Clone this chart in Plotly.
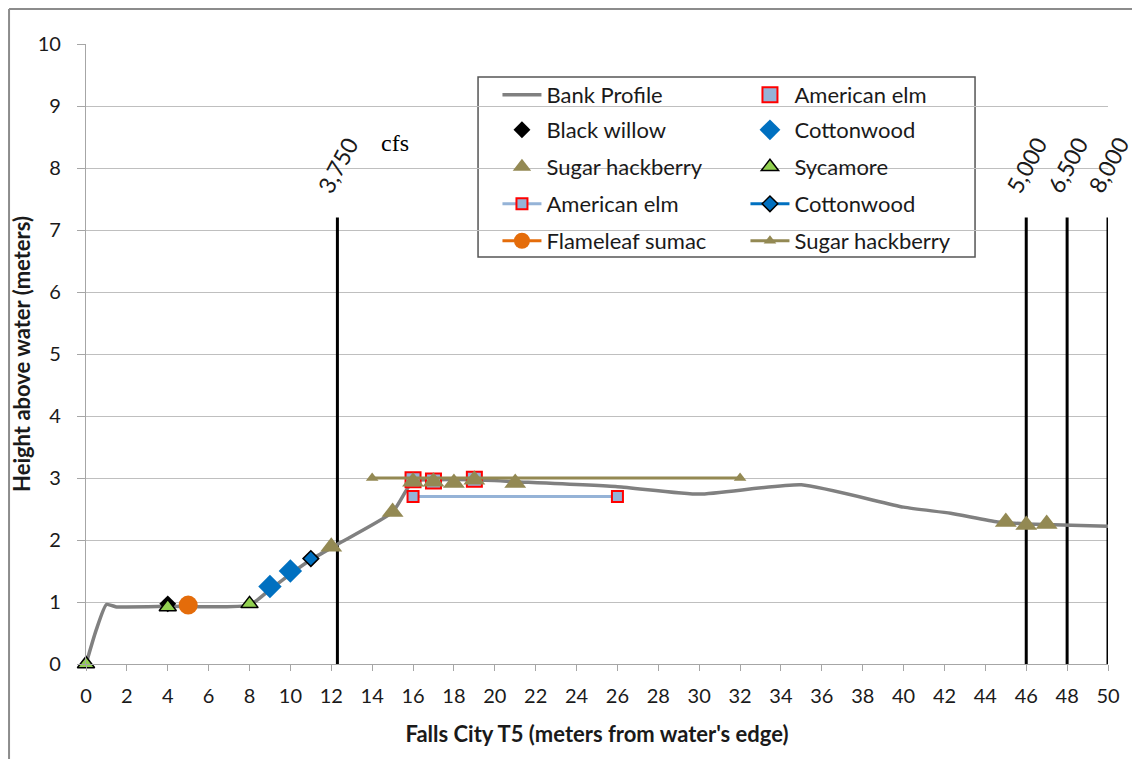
import plotly.graph_objects as go

# ---------------- data ----------------
bank_x = [0, 0.5, 1.0, 1.5, 2, 4, 8, 9, 10, 11, 12.3, 15, 16, 17, 19, 21, 26, 30, 35, 40, 42.3, 44.6, 46, 50]
bank_y = [0, 0.55, 0.96, 0.92, 0.92, 0.93, 0.95, 1.2, 1.45, 1.68, 1.93, 2.45, 2.95, 2.97, 2.97, 2.94, 2.86, 2.74, 2.89, 2.53, 2.43, 2.29, 2.26, 2.22]

elm_pts_x = [16, 17, 19]
elm_pts_y = [2.97, 2.95, 2.98]

willow_x = [4]
willow_y = [0.97]

cotton_pts_x = [9, 10]
cotton_pts_y = [1.25, 1.5]

hack_pts_x = [12, 15, 16, 17, 18, 19, 21, 45, 46, 47]
hack_pts_y = [1.89, 2.45, 2.94, 2.94, 2.92, 2.97, 2.92, 2.29, 2.24, 2.26]

syc_x = [0, 4, 8]
syc_y = [0.0, 0.92, 0.97]

elm_line_x = [16, 26]
elm_line_y = [2.7, 2.7]

cotton_line_x = [11]
cotton_line_y = [1.7]

sumac_x = [5]
sumac_y = [0.95]

hack_line_x = [14, 32]
hack_line_y = [3.0, 3.0]

flow_x = [12.3, 46, 48, 50]
flow_labels = ["3,750", "5,000", "6,500", "8,000"]
flow_top = 7.2

x_ticks = list(range(0, 51, 2))
y_ticks = list(range(0, 11, 1))

# ---------------- style ----------------
FONT = "Lato"
TXT = "#1a1a1a"
OLIVE = "#938953"
ELM_FILL = "#95B3D7"
BLUE = "#0070C0"
ORANGE = "#E46C0A"
GREEN = "#92D050"

fig = go.Figure()

# flow lines (no legend)
for fx in flow_x:
    fig.add_trace(go.Scatter(x=[fx, fx], y=[0, flow_top], mode="lines",
                             line=dict(color="black", width=3), showlegend=False,
                             hoverinfo="skip"))

fig.add_trace(go.Scatter(x=bank_x, y=bank_y, mode="lines", name="Bank Profile",
                         line=dict(color="#808080", width=3.5, shape="spline", smoothing=0.5),
                         legend="legend"))
fig.add_trace(go.Scatter(x=elm_pts_x, y=elm_pts_y, mode="markers", name="American elm",
                         marker=dict(symbol="square", size=15, color=ELM_FILL,
                                     line=dict(color="#FF0000", width=2)),
                         legend="legend"))
fig.add_trace(go.Scatter(x=willow_x, y=willow_y, mode="markers", name="Black willow",
                         marker=dict(symbol="diamond", size=13, color="black"),
                         legend="legend2"))
fig.add_trace(go.Scatter(x=cotton_pts_x, y=cotton_pts_y, mode="markers", name="Cottonwood",
                         marker=dict(symbol="diamond", size=18, color=BLUE),
                         legend="legend2"))
fig.add_trace(go.Scatter(x=hack_pts_x, y=hack_pts_y, mode="markers", name="Sugar hackberry",
                         marker=dict(symbol="triangle-up", size=19, color=OLIVE),
                         legend="legend3"))
fig.add_trace(go.Scatter(x=syc_x, y=syc_y, mode="markers", name="Sycamore",
                         marker=dict(symbol="triangle-up", size=15, color=GREEN,
                                     line=dict(color="black", width=1.5)),
                         cliponaxis=False, legend="legend3"))
fig.add_trace(go.Scatter(x=elm_line_x, y=elm_line_y, mode="lines+markers", name="American elm",
                         line=dict(color=ELM_FILL, width=3),
                         marker=dict(symbol="square", size=11, color=ELM_FILL,
                                     line=dict(color="#FF0000", width=2)),
                         legend="legend4"))
fig.add_trace(go.Scatter(x=cotton_line_x, y=cotton_line_y, mode="lines+markers", name="Cottonwood",
                         line=dict(color=BLUE, width=3),
                         marker=dict(symbol="diamond", size=12, color=BLUE,
                                     line=dict(color="black", width=1.5)),
                         legend="legend4"))
fig.add_trace(go.Scatter(x=sumac_x, y=sumac_y, mode="lines+markers", name="Flameleaf sumac",
                         line=dict(color=ORANGE, width=3),
                         marker=dict(symbol="circle", size=19, color=ORANGE),
                         legend="legend5"))
fig.add_trace(go.Scatter(x=hack_line_x, y=hack_line_y, mode="lines+markers", name="Sugar hackberry",
                         line=dict(color=OLIVE, width=3),
                         marker=dict(symbol="triangle-up", size=11, color=OLIVE),
                         legend="legend5"))

# flow labels
for fx, lab in zip(flow_x, flow_labels):
    fig.add_annotation(x=fx, y=8.05, text=lab, showarrow=False, textangle=-62,
                       font=dict(family=FONT, size=23, color=TXT),
                       xanchor="center", yanchor="middle")
fig.add_annotation(x=15.1, y=8.4, text="cfs", showarrow=False,
                   font=dict(family="Liberation Serif", size=24, color="black"),
                   xanchor="center", yanchor="middle")

# legends: one per row
row_y = [0.9177, 0.8613, 0.8016, 0.7419, 0.6823]
leg_common = dict(orientation="h", x=0.4026, xanchor="left", yanchor="middle",
                  entrywidth=194, entrywidthmode="pixels", itemwidth=39,
                  bgcolor="rgba(0,0,0,0)", borderwidth=0,
                  font=dict(family=FONT, size=22, color=TXT),
                  traceorder="normal")
legends = {}
for i, ry in enumerate(row_y):
    key = "legend" if i == 0 else f"legend{i+1}"
    legends[key] = dict(leg_common, y=ry)

fig.update_layout(
    width=1140, height=759,
    margin=dict(l=78, r=40, t=36, b=103, autoexpand=False),
    paper_bgcolor="white", plot_bgcolor="white",
    font=dict(family=FONT, size=19, color=TXT),
    showlegend=True,
    **legends,
    shapes=[
        # legend box
        dict(type="rect", xref="paper", yref="paper", x0=0.3836, x1=0.8699, y0=0.6565, y1=0.9468,
             line=dict(color="#555555", width=1.5), fillcolor="white", layer="between"),
        # outer chart border (top and left edges)
        dict(type="line", xref="paper", yref="paper", x0=-0.0753, x1=1.06, y0=1.0565, y1=1.0565,
             line=dict(color="#8c8c8c", width=2)),
        dict(type="line", xref="paper", yref="paper", x0=-0.0753, x1=-0.0753, y0=1.0565, y1=-0.2,
             line=dict(color="#8c8c8c", width=2)),
    ],
)

fig.update_xaxes(range=[0, 50], tickvals=x_ticks, ticktext=[str(v) for v in x_ticks],
                 automargin=False,
                 showgrid=False, zeroline=False, showline=True, linecolor="#A6A6A6", linewidth=1.3,
                 ticks="outside", ticklen=6, tickcolor="#A6A6A6", tickwidth=1.3,
                 ticklabelstandoff=8,
                 tickfont=dict(family=FONT, size=20, color=TXT),
                 title=dict(text="<b>Falls City T5 (meters from water's edge)</b>",
                            font=dict(family=FONT, size=22, color=TXT), standoff=20))
fig.update_yaxes(range=[0, 10], tickvals=y_ticks, ticktext=[str(v) for v in y_ticks],
                 automargin=False,
                 showgrid=True, gridcolor="#BFBFBF", gridwidth=1.3, zeroline=False,
                 showline=True, linecolor="#A6A6A6", linewidth=1.3,
                 ticks="outside", ticklen=8, tickcolor="#A6A6A6", tickwidth=1.3,
                 ticklabelstandoff=12,
                 tickfont=dict(family=FONT, size=20, color=TXT),
                 title=dict(text="<b>Height above water (meters)</b>",
                            font=dict(family=FONT, size=22, color=TXT), standoff=0))

fig.write_html("out.html")
